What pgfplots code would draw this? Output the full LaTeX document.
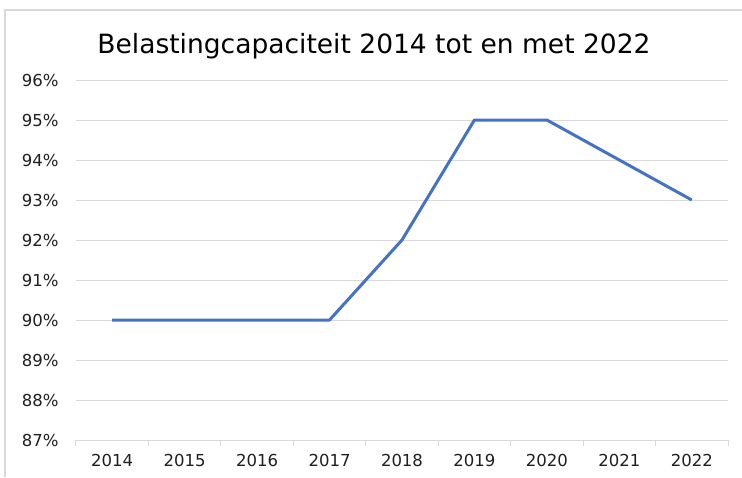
\documentclass[border=0pt]{standalone}
\usepackage{pgfplots}
\pgfplotsset{compat=1.18}
\usepackage{fontspec}
\setmainfont{DejaVu Sans}
\definecolor{lineblue}{HTML}{4472C4}
\definecolor{gridgrey}{HTML}{D9D9D9}
\definecolor{txt}{HTML}{1F1F1F}
\begin{document}
\begin{tikzpicture}[x=1pt,y=1pt]
\useasboundingbox (0,0) rectangle (742,477);
\draw[gridgrey, line width=1.2pt] (5,0) -- (5,467) -- (742,467);
\node[black, font=\fontsize{26.5}{30}\selectfont, anchor=center] at (374,431) {Belastingcapaciteit 2014 tot en met 2022};
\begin{axis}[
  at={(76pt,37pt)}, anchor=south west,
  scale only axis, width=652pt, height=360pt,
  xmin=-0.5, xmax=8.5, ymin=87, ymax=96,
  xtick={0,...,8},
  xticklabels={2014,2015,2016,2017,2018,2019,2020,2021,2022},
  minor xtick={-0.5,0.5,...,8.5},
  major tick length=0pt, minor tick length=6pt,
  tick align=outside,
  minor tick style={gridgrey, line width=1pt},
  ytick={87,...,96},
  yticklabel={\pgfmathprintnumber{\tick}\%},
  /pgf/number format/assume math mode=true,
  ymajorgrids, grid style={gridgrey, line width=1pt},
  axis x line*=bottom, axis y line*=left,
  x axis line style={gridgrey, line width=1pt, -},
  y axis line style={draw=none},
  ticklabel style={font=\fontsize{16.5}{19}\selectfont, text=txt},
  xticklabel style={yshift=-11pt},
  yticklabel style={xshift=-14pt},
  clip=false,
]
\addplot[lineblue, line width=3pt, line join=round] coordinates {
(0,90) (1,90) (2,90) (3,90) (4,92) (5,95) (6,95) (7,94) (8,93)};
\end{axis}
\end{tikzpicture}
\end{document}
